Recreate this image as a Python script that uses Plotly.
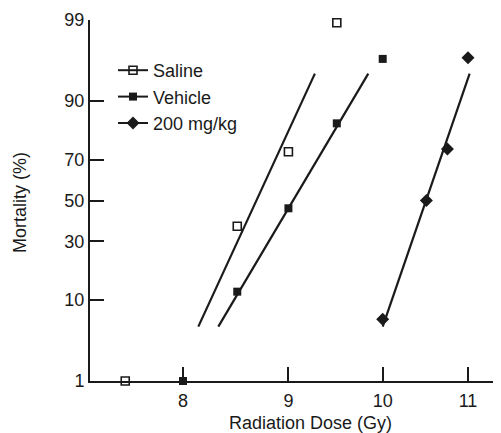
import plotly.graph_objects as go
from statistics import NormalDist

# ---- data ----
tick_pct = [1, 10, 30, 50, 70, 90, 99]
tick_labels = ["1", "10", "30", "50", "70", "90", "99"]
dose_ticks = [8, 9, 10, 11]

saline_dose = [7.5, 8.5, 9.0, 9.5]
saline_mort = [1, 37, 73.5, 98.9]
vehicle_dose = [8.0, 8.5, 9.0, 9.5, 10.0]
vehicle_mort = [1, 12, 46, 84, 96.6]
drug_dose = [10.0, 10.5, 10.75, 11.0]
drug_mort = [6.3, 50, 74.7, 96.7]

saline_fit_dose = [8.138, 9.27]
saline_fit_mort = [5.2, 94.9]
vehicle_fit_dose = [8.322, 9.84]
vehicle_fit_mort = [5.2, 94.9]
drug_fit_dose = [10.0, 11.02]
drug_fit_mort = [5.2, 94.9]

nd = NormalDist()


def probit(p_list):
    return [nd.inv_cdf(p / 100.0) for p in p_list]


INK = "#1a1a1a"
FONT = "Liberation Sans, Arial, sans-serif"
FS = 18

series = [
    ("Saline", saline_dose, saline_mort, saline_fit_dose, saline_fit_mort,
     dict(symbol="square-open", size=8, color=INK, line=dict(width=1.6, color=INK))),
    ("Vehicle", vehicle_dose, vehicle_mort, vehicle_fit_dose, vehicle_fit_mort,
     dict(symbol="square", size=8, color=INK, line=dict(width=0))),
    ("200 mg/kg", drug_dose, drug_mort, drug_fit_dose, drug_fit_mort,
     dict(symbol="diamond", size=10, color=INK, line=dict(width=0))),
]

fig = go.Figure()
for name, d, m, fd, fm, mk in series:
    fig.add_trace(go.Scatter(x=fd, y=probit(fm), mode="lines",
                             line=dict(color=INK, width=2.2),
                             showlegend=False, hoverinfo="skip"))
    fig.add_trace(go.Scatter(x=d, y=probit(m), mode="markers", marker=mk,
                             showlegend=False, cliponaxis=False))
    # legend entry (line + marker)
    fig.add_trace(go.Scatter(x=[None], y=[None], mode="lines+markers", name=name,
                             marker=mk, line=dict(color=INK, width=2)))

y_lo = nd.inv_cdf(0.01)
y_hi = nd.inv_cdf(0.99)

# page body has an 8px margin -> figure drawn 8px right/down in the window
W, H = 493, 425
L, R, T, B = 82, 0, 12, 52
pw, ph = W - L - R, H - T - B
XAX = T + ph  # y of x-axis in figure px

fig.update_layout(
    width=W, height=H,
    margin=dict(l=L, r=R, t=T, b=B, pad=0),
    paper_bgcolor="white", plot_bgcolor="white",
    font=dict(family=FONT, size=FS, color=INK),
    showlegend=True,
    legend=dict(x=(105 - L) / pw, y=(XAX - 44) / ph, xanchor="left", yanchor="top",
                bgcolor="rgba(0,0,0,0)", borderwidth=0, itemwidth=30,
                font=dict(family=FONT, size=FS, color=INK), tracegroupgap=0),
    xaxis=dict(type="log", range=[0.85796, 1.0574], tickvals=dose_ticks,
               ticktext=[str(v) for v in dose_ticks],
               showline=True, linecolor=INK, linewidth=2, mirror=False,
               ticks="inside", ticklen=14, tickwidth=2, tickcolor=INK,
               showgrid=False, zeroline=False, ticklabelstandoff=2,
               tickfont=dict(family=FONT, size=FS, color=INK)),
    yaxis=dict(range=[y_lo, y_hi], tickvals=probit(tick_pct), ticktext=tick_labels,
               showline=True, linecolor=INK, linewidth=2, mirror=False,
               ticks="inside", ticklen=14, tickwidth=2, tickcolor=INK,
               showgrid=False, zeroline=False, ticklabelstandoff=0,
               tickfont=dict(family=FONT, size=FS, color=INK)),
    annotations=[
        dict(text="Radiation Dose (Gy)", xref="paper", yref="paper",
             x=(302.7 - L) / pw, y=(XAX - 415) / ph, xanchor="center", yanchor="middle",
             showarrow=False, font=dict(family=FONT, size=FS, color=INK)),
        dict(text="Mortality (%)", xref="paper", yref="paper", textangle=-90,
             x=(12 - L) / pw, y=(XAX - 195) / ph, xanchor="center", yanchor="middle",
             showarrow=False, font=dict(family=FONT, size=FS, color=INK)),
    ],
)

fig.write_html("out.html")
